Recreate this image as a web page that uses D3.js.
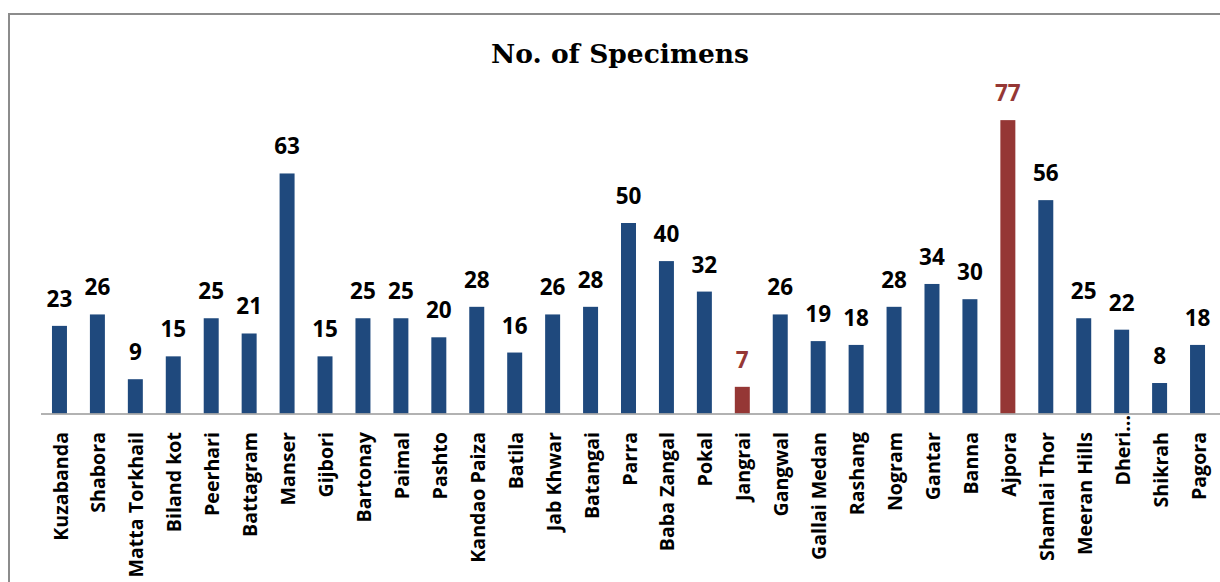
<!DOCTYPE html>
<html><head><meta charset="utf-8">
<script src="https://cdn.jsdelivr.net/npm/d3@7"></script>
<style>html,body{margin:0;padding:0;background:#fff;}svg{display:block;}</style>
</head><body>
<svg id="chart" width="1220" height="582"></svg>
<script>
const categories = ["Kuzabanda","Shabora","Matta Torkhail","Biland kot","Peerhari","Battagram","Manser","Gijbori","Bartonay","Paimal","Pashto","Kandao Paiza","Batila","Jab Khwar","Batangai","Parra","Baba Zangal","Pokal","Jangrai","Gangwal","Gallai Medan","Rashang","Nogram","Gantar","Banna","Ajpora","Shamlai Thor","Meeran Hills","Dheri…","Shikrah","Pagora"];
const specimens = [23,26,9,15,25,21,63,15,25,25,20,28,16,26,28,50,40,32,7,26,19,18,28,34,30,77,56,25,22,8,18];
const highlighted = ["Jangrai","Ajpora"];
const title = "No. of Specimens";

const svg = d3.select("#chart");
const blue = "#1f497d", red = "#953735";

svg.append("rect").attr("x",9).attr("y",14).attr("width",1240).attr("height",600)
  .attr("fill","none").attr("stroke","#8c8c8c").attr("stroke-width",2);

const x = d3.scaleBand().domain(categories).range([40.5,1216.5]).paddingInner(0.605).paddingOuter(0.3025);
const y = d3.scaleLinear().domain([0,80]).range([413.5,108.7]);

svg.append("text").attr("x",620).attr("y",63).attr("text-anchor","middle")
  .attr("font-family","'DejaVu Serif'").attr("font-weight","bold").attr("font-size",26.5)
  .attr("fill","#000").text(title);

const data = categories.map((c,i)=>({c,v:specimens[i],hi:highlighted.includes(c)}));

svg.selectAll("rect.bar").data(data).join("rect").attr("class","bar")
  .attr("x",d=>x(d.c)).attr("width",x.bandwidth())
  .attr("y",d=>y(d.v)).attr("height",d=>y(0)-y(d.v))
  .attr("fill",d=>d.hi?red:blue);

svg.selectAll("text.val").data(data).join("text").attr("class","val")
  .attr("x",d=>x(d.c)+x.bandwidth()/2).attr("y",d=>y(d.v)-19)
  .attr("text-anchor","middle").attr("font-family","'Open Sans'").attr("font-weight","bold")
  .attr("font-size",22.5).attr("fill",d=>d.hi?red:"#000").text(d=>d.v);

const xAxis = d3.axisBottom(x).tickSize(0).tickPadding(0);
const gx = svg.append("g").attr("transform","translate(0,414)").call(xAxis);
gx.select(".domain").attr("d","M41,0H1220").attr("stroke","#999").attr("stroke-width",1.5);
gx.selectAll(".tick text")
  .attr("font-family","'Open Sans'").attr("font-weight","bold").attr("font-size",19.6).attr("fill","#000")
  .attr("text-anchor","end").attr("dy","0.36em")
  .attr("transform",d=>`translate(1,${d.endsWith("…")?1:18}) rotate(-90)`)
  .attr("y",0).attr("x",0);
</script>
</body></html>
